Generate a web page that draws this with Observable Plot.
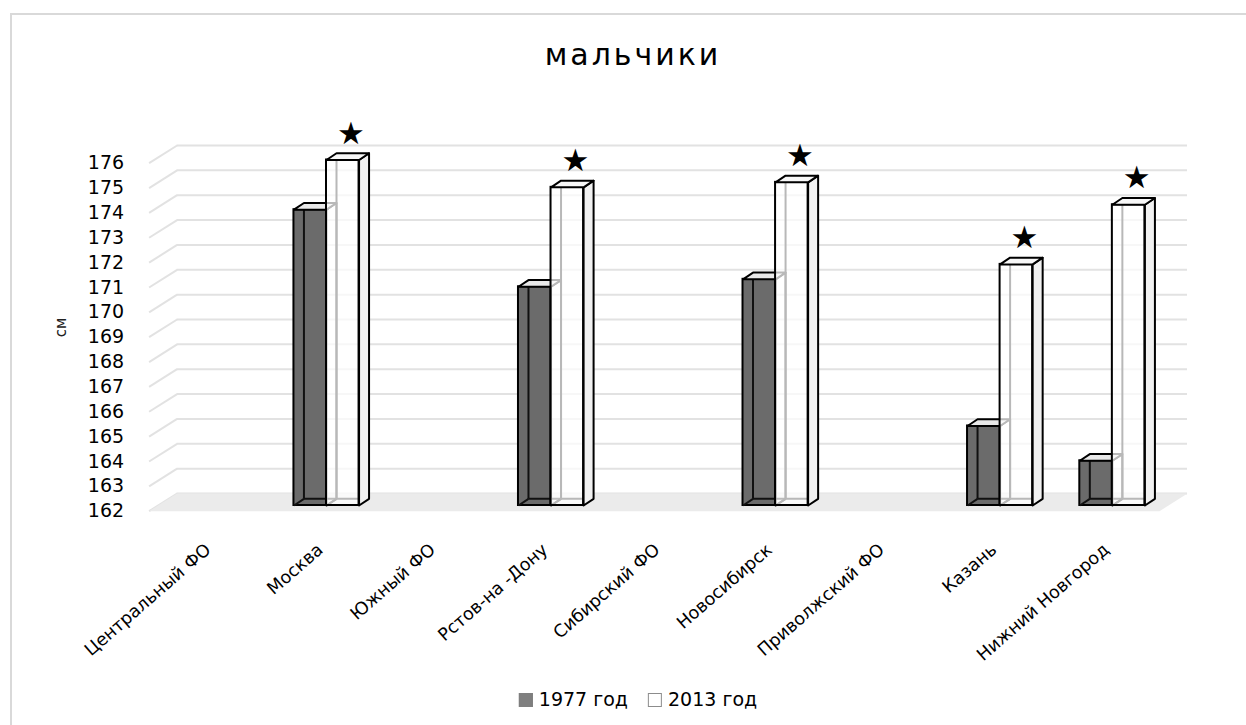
<!DOCTYPE html>
<html>
<head>
<meta charset="utf-8">
<script src="https://cdn.jsdelivr.net/npm/d3@7"></script>
<script src="https://cdn.jsdelivr.net/npm/@observablehq/plot@0.6"></script>
<style>
  html, body { margin: 0; padding: 0; background: #fff; overflow: hidden; }
  #wrap { position: relative; width: 1246px; height: 725px; font-family: "DejaVu Sans", sans-serif; color: #000; }
  #frame { position: absolute; left: 10px; top: 13px; width: 1260px; height: 740px; border: 2px solid #d9d9d9; box-sizing: border-box; }
  #title { position: absolute; top: 40px; left: 633px; transform: translateX(-50%); font-size: 30px; line-height: 30px; letter-spacing: 3px; white-space: nowrap; }
  #chart { position: absolute; left: 0; top: 100px; }
  #legend { position: absolute; top: 690px; left: 638px; transform: translateX(-50%); display: flex; align-items: center; font-size: 19px; line-height: 19px; white-space: nowrap; }
  #legend .sw { display: inline-block; width: 14px; height: 14px; box-sizing: border-box; margin-right: 6px; }
  #legend .item { display: flex; align-items: center; margin: 0 10px; }
</style>
</head>
<body>
<div id="wrap">
  <div id="frame"></div>
  <div id="title">мальчики</div>
  <div id="chart"></div>
  <div id="legend"></div>
</div>
<script>
// Regions and cities along the category axis
const categories = ["Центральный ФО", "Москва", "Южный ФО", "Рстов-на -Дону", "Сибирский ФО",
  "Новосибирск", "Приволжский ФО", "Казань", "Нижний Новгород"];
// Mean height of boys, cm (null where no measurement)
const values1977 = [null, 173.9, null, 170.8, null, 171.1, null, 165.2, 163.8];
const values2013 = [null, 175.9, null, 174.8, null, 175.0, null, 171.7, 174.1];
const seriesNames = ["1977 год", "2013 год"];
const yTicks = [162, 163, 164, 165, 166, 167, 168, 169, 170, 171, 172, 173, 174, 175, 176];
const yBase = 162;

// Frame geometry
const W = 1246, H = 560;
const mL = 148.6, mR = 87, mT = 62.7, mB = 149.3;
const pxX = (W - mL - mR) / categories.length;   // pixels per category
const pxY = (H - mT - mB) / (yTicks[yTicks.length - 1] - yTicks[0]); // pixels per cm

// Oblique depth: full floor depth, bar front inset and bar depth (pixels)
const floorDX = 28, floorDY = 17.7;
const barDX = 9, barDY = -5.7;
const boxDX = 10, boxDY = 6.7;
const barW = 0.29; // bar width, in category units

const ox = px => px / pxX;
const oy = px => px / pxY;

// Bars built from the value arrays
function makeBars(vals, series, side) {
  const out = [];
  vals.forEach((v, i) => {
    if (v == null) return;
    const x1 = side === 0 ? i - barW : i;
    const x2 = side === 0 ? i : i + barW;
    out.push({i, series, x1, x2, v});
  });
  return out;
}
const bars77 = makeBars(values1977, seriesNames[0], 0);
const bars13 = makeBars(values2013, seriesNames[1], 1);

// Polygons for the top and right faces of each box
function topFaces(bars) {
  return bars.flatMap((b, k) => [
    {k, x: b.x1, y: b.v}, {k, x: b.x2, y: b.v},
    {k, x: b.x2 + ox(boxDX), y: b.v + oy(boxDY)}, {k, x: b.x1 + ox(boxDX), y: b.v + oy(boxDY)}
  ]);
}
function sideFaces(bars) {
  return bars.flatMap((b, k) => [
    {k, x: b.x2, y: yBase}, {k, x: b.x2 + ox(boxDX), y: yBase + oy(boxDY)},
    {k, x: b.x2 + ox(boxDX), y: b.v + oy(boxDY)}, {k, x: b.x2, y: b.v}
  ]);
}
// Hidden edges seen through the boxes: back-left vertical, back-bottom, bottom-left slant
function backEdges(bars) {
  return bars.flatMap(b => [
    {x1: b.x1 + ox(boxDX), y1: yBase + oy(boxDY), x2: b.x1 + ox(boxDX), y2: b.v + oy(boxDY)},
    {x1: b.x1 + ox(boxDX), y1: yBase + oy(boxDY), x2: b.x2 + ox(boxDX), y2: yBase + oy(boxDY)},
    {x1: b.x1, y1: yBase, x2: b.x1 + ox(boxDX), y2: yBase + oy(boxDY)}
  ]);
}

const x0 = -0.5, xN = categories.length - 0.5;
const floor = [
  {x: x0, y: yBase}, {x: xN, y: yBase},
  {x: xN + ox(floorDX), y: yBase + oy(floorDY)}, {x: x0 + ox(floorDX), y: yBase + oy(floorDY)}
];

const box = {dx: barDX, dy: barDY};

const chart = Plot.plot({
  width: W,
  height: H,
  marginLeft: mL, marginRight: mR, marginTop: mT, marginBottom: mB,
  style: {fontFamily: "DejaVu Sans, sans-serif", fontSize: "19px", color: "#000", background: "transparent", overflow: "visible"},
  x: {domain: [x0, xN], axis: null},
  y: {domain: [yTicks[0], yTicks[yTicks.length - 1]], axis: null},
  marks: [
    // back wall grid
    Plot.ruleY(yTicks, {y: d => d, x1: x0, x2: xN, dx: floorDX, dy: -floorDY, stroke: "#e2e2e2", strokeWidth: 2}),
    // side wall grid
    Plot.link(yTicks, {x1: x0, y1: d => d, x2: x0 + ox(floorDX), y2: d => d + oy(floorDY), stroke: "#e2e2e2", strokeWidth: 2}),
    // floor
    Plot.line(floor, {x: "x", y: "y", curve: "linear-closed", fill: "#ebebeb", stroke: "none"}),

    // 1977 boxes
    Plot.rect(bars77, {x1: "x1", x2: "x2", y1: yBase, y2: "v", fill: "#6b6b6b", stroke: "#000", strokeWidth: 2, ...box}),
    Plot.link(backEdges(bars77), {x1: "x1", y1: "y1", x2: "x2", y2: "y2", stroke: "#111", strokeWidth: 2, ...box}),
    Plot.line(sideFaces(bars77), {x: "x", y: "y", z: "k", curve: "linear-closed", fill: "none", stroke: "#000", strokeWidth: 2, ...box}),
    Plot.line(topFaces(bars77), {x: "x", y: "y", z: "k", curve: "linear-closed", fill: "#e9e9e9", stroke: "#000", strokeWidth: 2, ...box}),

    // 2013 boxes
    Plot.link(backEdges(bars13), {x1: "x1", y1: "y1", x2: "x2", y2: "y2", stroke: "#000", strokeWidth: 2, ...box}),
    Plot.rect(bars13, {x1: "x1", x2: "x2", y1: yBase, y2: "v", fill: "#fff", fillOpacity: 0.72, ...box}),
    Plot.rect(bars13, {x1: "x1", x2: "x2", y1: yBase, y2: "v", fill: "none", stroke: "#000", strokeWidth: 2, ...box}),
    Plot.line(sideFaces(bars13), {x: "x", y: "y", z: "k", curve: "linear-closed", fill: "#f1f1f1", stroke: "#000", strokeWidth: 2, ...box}),
    Plot.line(topFaces(bars13), {x: "x", y: "y", z: "k", curve: "linear-closed", fill: "#f7f7f7", stroke: "#000", strokeWidth: 2, ...box}),

    // significance marks above the 2013 boxes
    Plot.text(bars13, {x: d => d.x1 + barW / 2, y: "v", text: () => "★", dx: 17, dy: -32, fontSize: 31, lineAnchor: "middle", fill: "#000"}),

    // value axis
    Plot.axisY(yTicks, {anchor: "left", tickSize: 0, tickPadding: 25, tickFormat: d => String(d), label: null, fontSize: 19, fill: "#000"}),
    Plot.text(["см"], {frameAnchor: "left", dx: -88, rotate: -90, fontSize: 15, fill: "#222"}),

    // category labels
    Plot.text(categories, {x: (d, i) => i, y: yBase, text: d => d, rotate: -41, textAnchor: "end", lineAnchor: "middle", dx: 3, dy: 36, fontSize: 17.5, fill: "#000"})
  ]
});
document.getElementById("chart").appendChild(chart);

// Legend
const legend = document.getElementById("legend");
const swatches = [
  {fill: "#7f7f7f", stroke: "#7f7f7f"},
  {fill: "#ffffff", stroke: "#8c8c8c"}
];
seriesNames.forEach((name, k) => {
  const item = document.createElement("span");
  item.className = "item";
  const sw = document.createElement("span");
  sw.className = "sw";
  sw.style.background = swatches[k].fill;
  sw.style.border = `1.5px solid ${swatches[k].stroke}`;
  item.appendChild(sw);
  item.appendChild(document.createTextNode(name));
  legend.appendChild(item);
});
</script>
</body>
</html>
